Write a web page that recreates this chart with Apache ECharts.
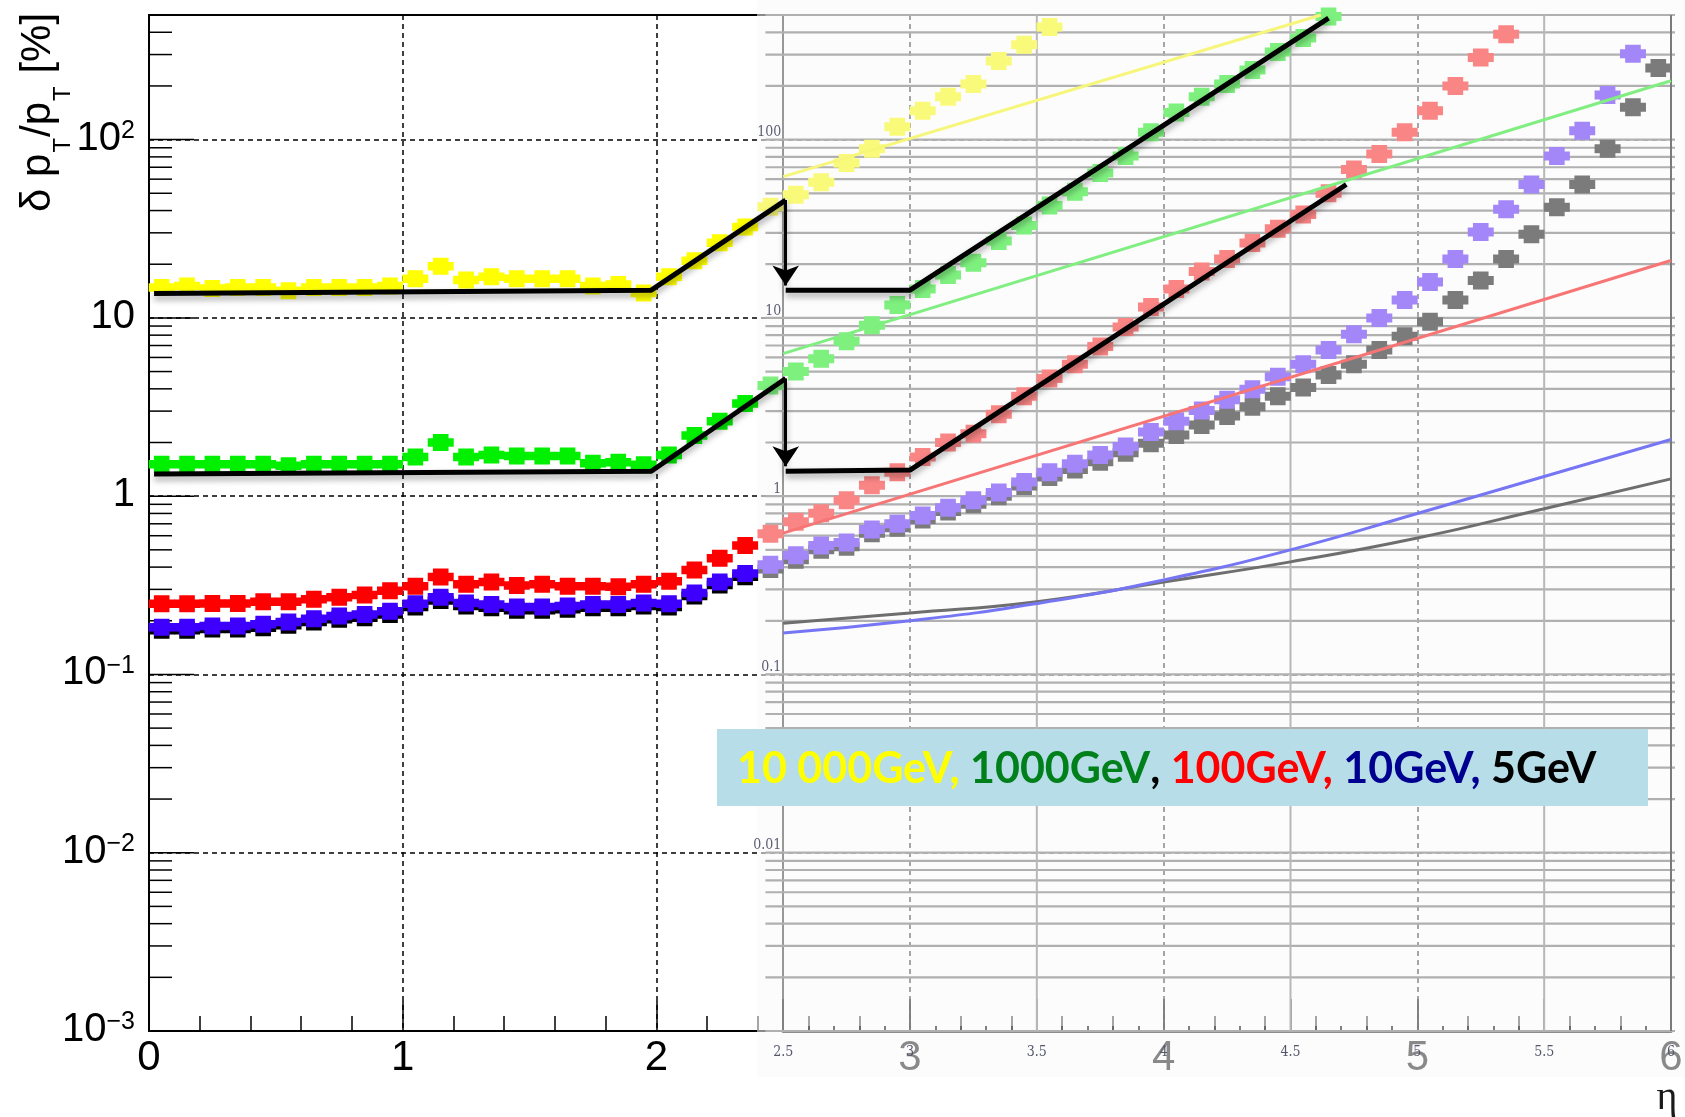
<!DOCTYPE html>
<html><head><meta charset="utf-8">
<script src="https://cdn.jsdelivr.net/npm/echarts@6/dist/echarts.min.js"></script>
<style>html,body{margin:0;padding:0;background:#fff}#c{width:1685px;height:1117px}</style>
</head><body><div id="c"></div>
<script>
// ---------- data ----------
const etaMain = [0.05,0.15,0.25,0.35,0.45,0.55,0.65,0.75,0.85,0.95,1.05,1.15,1.25,1.35,1.45,1.55,1.65,1.75,1.85,1.95,2.05,2.15,2.25,2.35];
const main10000 = [14.8,15.1,14.6,14.8,14.8,14.2,14.8,14.8,14.8,15.1,16.6,19.5,16.3,17.0,16.6,16.6,16.6,15.1,15.4,13.8,17.0,20.9,26.4,32.3];
const main1000  = [1.51,1.51,1.51,1.51,1.51,1.48,1.51,1.51,1.51,1.51,1.66,2.0,1.66,1.70,1.68,1.68,1.68,1.53,1.55,1.50,1.70,2.19,2.63,3.31];
const main100   = [0.249,0.249,0.25,0.25,0.256,0.256,0.264,0.271,0.279,0.295,0.312,0.352,0.321,0.330,0.315,0.321,0.312,0.312,0.31,0.321,0.333,0.385,0.448,0.529];
const main10    = [0.184,0.184,0.187,0.187,0.191,0.197,0.205,0.213,0.217,0.226,0.249,0.271,0.252,0.247,0.239,0.239,0.242,0.247,0.247,0.252,0.249,0.286,0.33,0.368];
const main5     = [0.177,0.177,0.18,0.18,0.183,0.189,0.197,0.204,0.208,0.217,0.239,0.26,0.242,0.237,0.229,0.229,0.232,0.237,0.237,0.242,0.239,0.275,0.317,0.353];

const etaFwd = [2.45,2.55,2.65,2.75,2.85,2.95,3.05,3.15,3.25,3.35,3.45,3.55,3.65,3.75,3.85,3.95,4.05,4.15,4.25,4.35,4.45,4.55,4.65,4.75,4.85,4.95,5.05,5.15,5.25,5.35,5.45,5.55,5.65,5.75,5.85,5.95];
const fwd10000 = [42,49,57.7,74,89,118,145,174,205,276,340,428];
const fwd1000  = [4.17,5.0,5.9,7.4,9.1,11.8,14.5,17.4,20.4,27,33,42.7,51,65,81,110,142,174,205,246,310,372,491];
const fwd100   = [0.615,0.719,0.803,0.95,1.15,1.36,1.66,2.0,2.24,2.88,3.63,4.57,5.5,6.9,8.9,11.5,14.5,18.2,21.4,26.3,31.6,38,50,68,83,110,145,200,289,390];
const fwd10    = [0.412,0.466,0.529,0.55,0.65,0.70,0.78,0.86,0.95,1.05,1.2,1.36,1.52,1.70,1.9,2.29,2.63,3.02,3.47,3.98,4.68,5.5,6.6,8.1,10,12.6,15.9,21.4,30.3,40.7,56,81,112,178,303];
const fwd5     = [0.39,0.44,0.50,0.52,0.62,0.665,0.74,0.82,0.90,1.0,1.14,1.28,1.41,1.56,1.75,1.98,2.2,2.51,2.82,3.17,3.63,4.07,4.79,5.5,6.6,7.9,9.5,12.6,16.2,21.4,29.5,41.8,56,89,152,252];

const lineEta10000 = [2.5, 4.62]; const lineVal10000 = [62, 500];
const lineEta1000  = [2.5, 6.0];  const lineVal1000  = [6.3, 214];
const lineEta100   = [2.5, 6.0];  const lineVal100   = [0.62, 21];
const curveEta = [2.5,3.0,3.5,4.0,4.5,5.0,5.5,6.0];
const curve10  = [0.171,0.20,0.25,0.339,0.50,0.80,1.29,2.08];
const curve5   = [0.194,0.221,0.256,0.33,0.428,0.582,0.85,1.25];

const annoUpperEta  = [0.02,1.98,2.51]; const annoUpperVal  = [13.7,14.3,45.8];
const annoUpper2Eta = [2.51,3.0,4.65];  const annoUpper2Val = [14.3,14.3,480];
const annoLowerEta  = [0.02,1.98,2.51]; const annoLowerVal  = [1.33,1.38,4.57];
const annoLower2Eta = [2.51,3.0,4.72];  const annoLower2Val = [1.38,1.40,56];
const arrowEta = [2.51,2.51];
const arrowUpperVal = [45.8,15.2];
const arrowLowerVal = [4.57,1.47];

// tick / label definitions
const decades = [0.001,0.01,0.1,1,10,100];
const mantissas = [2,3,4,5,6,7,8,9];
const yMainLabelExp  = [-3,-2,-1,0,1,2];
const yMainLabelText = ['{b|10}{s|\u22123}','{b|10}{s|\u22122}','{b|10}{s|\u22121}','{b|1}','{b|10}','{b|10}{s|2}'];
const yFwdLabelExp  = [-2,-1,0,1,2];
const yFwdLabelText = ['0.01','0.1','1','10','100'];
const fwdVLines = [3.5,4.5,5.5,6.0];
const yMin = 0.001, yMax = 500;

// ---------- helpers ----------
const zip = (xs, ys) => ys.map((y, i) => [xs[i], y]);
const minorVals = [];
decades.forEach(d => mantissas.forEach(m => { const v = +(d*m).toPrecision(3); if (v <= yMax) minorVals.push(v); }));
const fwdGridVals = decades.concat(minorVals);

function labelFromExp(exps, texts) {
  return function (v) {
    const l = Math.log10(v), e = Math.round(l);
    if (Math.abs(l - e) > 1e-6) return '';
    const i = exps.indexOf(e);
    return i < 0 ? '' : texts[i];
  };
}
function yTickRender(len) {
  return function (params, api) {
    const p = api.coord([0, api.value(1)]);
    return { type: 'line', shape: { x1: p[0], y1: p[1], x2: p[0] + len, y2: p[1] },
             style: { stroke: '#000', lineWidth: 1.5 } };
  };
}
const MARK = 'path://M2,0 H8 V2 H10 V6 H8 V8 H2 V6 H0 V2 H2 Z';
function scat(name, data, color, z, size) {
  return { name, type: 'scatter', data, symbol: MARK, symbolSize: size || [26, 17],
           itemStyle: { color, opacity: 1 }, z, silent: true };
}
function pline(data, color, width, z, smooth) {
  return { type: 'line', data, showSymbol: false, symbol: 'none', smooth: !!smooth,
           lineStyle: { color, width }, z, silent: true };
}
const shadow = { shadowColor: 'rgba(0,0,0,0.35)', shadowBlur: 6, shadowOffsetY: 4 };
function anno(data) {
  return { type: 'line', data, showSymbol: false, symbol: 'none',
           lineStyle: Object.assign({ color: '#000', width: 5 }, shadow), z: 8, silent: true };
}
function arrow(xs, ys) {
  return { type: 'lines', coordinateSystem: 'cartesian2d', xAxisIndex: 0, yAxisIndex: 0,
           symbol: ['none', 'arrow'], symbolSize: [14, 20], z: 8, silent: true,
           lineStyle: Object.assign({ color: '#000', width: 3, opacity: 1 }, shadow),
           data: [{ coords: zip(xs, ys) }] };
}

// ---------- chart ----------
const chart = echarts.init(document.getElementById('c'), null, { renderer: 'canvas' });
const GL = 149, GR = 14, GT = 15, GB = 86;
const gridW = 1685 - GL - GR;
const legendFont = { fontSize: 43, fontWeight: 'bold', fontFamily: 'Lato' };
chart.setOption({
  animation: false,
  backgroundColor: '#fff',
  grid: [
    { left: GL, right: GR, top: GT, bottom: GB, show: true, borderColor: '#000', borderWidth: 2,
      backgroundColor: 'transparent', containLabel: false, outerBoundsMode: 'none' },
    { left: GL + gridW * 2.5 / 6, right: GR, top: GT, bottom: GB, show: false, containLabel: false, outerBoundsMode: 'none' }
  ],
  xAxis: [
    { type: 'value', gridIndex: 0, min: 0, max: 6, interval: 1, z: 0,
      axisLine: { show: true, onZero: false, lineStyle: { color: '#000', width: 2 } },
      axisTick: { show: true, inside: true, length: 30, lineStyle: { color: '#000', width: 1.5 } },
      minorTick: { show: true, splitNumber: 5, length: 15, lineStyle: { color: '#000', width: 1.5 } },
      splitLine: { show: true, lineStyle: { color: '#000', type: [5, 4], width: 1.5 } },
      axisLabel: { margin: 6, fontSize: 42, fontFamily: 'Liberation Sans', color: '#000', formatter: v => String(v) } },
    { type: 'value', gridIndex: 1, min: 2.5, max: 6, interval: 0.5, z: 1.5,
      axisLine: { show: true, onZero: false, lineStyle: { color: '#8c8c8c', width: 3 } },
      axisTick: { show: true, inside: true, length: 32, lineStyle: { color: '#7a7a7a', width: 1.5 } },
      minorTick: { show: true, splitNumber: 5, length: 5, lineStyle: { color: '#555', width: 1.5 } },
      splitLine: { show: false },
      axisLabel: { margin: 14, fontSize: 14, fontFamily: 'DejaVu Serif Condensed, Liberation Serif', color: '#55586a',
                   formatter: v => String(v) } }
  ],
  yAxis: [
    { type: 'log', logBase: 10, gridIndex: 0, min: yMin, max: yMax, splitNumber: 6, z: 0,
      axisLine: { show: true, onZero: false, lineStyle: { color: '#000', width: 2 } },
      axisTick: { show: false },
      splitLine: { show: true, lineStyle: { color: '#000', type: [5, 4], width: 1.5 } },
      axisLabel: { margin: 14, formatter: labelFromExp(yMainLabelExp, yMainLabelText),
        rich: {
          b: { fontSize: 40, fontFamily: 'Liberation Sans', color: '#000', lineHeight: 42, verticalAlign: 'top' },
          s: { fontSize: 25, fontFamily: 'Liberation Sans', color: '#000', lineHeight: 25, verticalAlign: 'top' }
        } } },
    { type: 'log', logBase: 10, gridIndex: 1, min: yMin, max: yMax, splitNumber: 6, z: 1.5,
      axisLine: { show: true, onZero: false, lineStyle: { color: '#777', width: 1.5 } },
      axisTick: { show: false }, splitLine: { show: false },
      axisLabel: { margin: 2, fontSize: 14, fontFamily: 'DejaVu Serif Condensed, Liberation Serif', color: '#5a5d72',
                   verticalAlign: 'bottom', formatter: labelFromExp(yFwdLabelExp, yFwdLabelText) } }
  ],
  graphic: [
    { type: 'rect', z: 1, silent: true, shape: { x: 757, y: 0, width: 928, height: 1077 },
      style: { fill: 'rgba(250,250,250,0.55)' } },
    { type: 'text', z: 20, silent: true, x: 17, y: 212, rotation: Math.PI / 2,
      style: { text: '{m|\u03b4 p}{t|T}{m|/p}{t|T}{m| [%]}', textAlign: 'left', textVerticalAlign: 'top',
               align: 'left', verticalAlign: 'top',
               rich: { m: { fontSize: 42, fontFamily: 'Liberation Sans', fill: '#000', color: '#000', verticalAlign: 'top' },
                       t: { fontSize: 24, fontFamily: 'Liberation Sans', fill: '#000', color: '#000', verticalAlign: 'top',
                            padding: [34, 1, 0, 1] } } } },
    { type: 'text', z: 20, silent: true, x: 1667, y: 1098,
      style: { text: '\u03b7', fontSize: 40, fontFamily: 'Liberation Serif', fill: '#1a1a1a',
               textAlign: 'center', textVerticalAlign: 'middle', align: 'center', verticalAlign: 'middle' } },
    { type: 'rect', z: 50, silent: true, shape: { x: 717, y: 729, width: 931, height: 77 },
      style: { fill: '#b7dde8' } },
    { type: 'text', z: 51, silent: true, x: 737, y: 769,
      style: { text: '{y|10 000GeV, }{g|1000GeV}{k|, }{r|100GeV, }{b|10GeV, }{k|5GeV}',
               textAlign: 'left', textVerticalAlign: 'middle', align: 'left', verticalAlign: 'middle',
               rich: {
                 y: Object.assign({ fill: '#ffff00', color: '#ffff00' }, legendFont),
                 g: Object.assign({ fill: '#00801a', color: '#00801a' }, legendFont),
                 k: Object.assign({ fill: '#000', color: '#000' }, legendFont),
                 r: Object.assign({ fill: '#ff0000', color: '#ff0000' }, legendFont),
                 b: Object.assign({ fill: '#000090', color: '#000090' }, legendFont)
               } } }
  ],
  series: [
    // main-axis ticks on the left axis
    { type: 'custom', renderItem: yTickRender(45), data: decades.map(v => [0, v]), z: 2, silent: true, clip: false },
    { type: 'custom', renderItem: yTickRender(23), data: minorVals.map(v => [0, v]), z: 2, silent: true, clip: false },
    // overlaid forward plot grid
    { type: 'custom', silent: true, z: 2, data: fwdGridVals.map(v => [2.43, v]),
      renderItem: (p, api) => { const a = api.coord([api.value(0), api.value(1)]); const b = api.coord([6, api.value(1)]);
        return { type: 'line', shape: { x1: a[0], y1: a[1], x2: b[0] + 4, y2: b[1] }, style: { stroke: '#b0b0b0', lineWidth: 2.2 } }; } },
    { type: 'custom', silent: true, z: 2, data: fwdVLines.map(v => [v, yMin]),
      renderItem: (p, api) => { const a = api.coord([api.value(0), yMax]); const b = api.coord([api.value(0), yMin]);
        const last = api.value(0) >= 6;
        return { type: 'line', shape: { x1: a[0], y1: a[1], x2: b[0], y2: b[1] }, style: { stroke: last ? '#7a7a7a' : '#b8b8b8', lineWidth: 2 } }; } },
    // forward (faded) points
    scat('5GeV fwd', zip(etaFwd, fwd5), '#7b7b7b', 3, [26, 18]),
    scat('10GeV fwd', zip(etaFwd, fwd10), '#a386f7', 3, [26, 18]),
    scat('100GeV fwd', zip(etaFwd, fwd100), '#f98585', 3, [26, 18]),
    scat('1000GeV fwd', zip(etaFwd, fwd1000), '#7ef07e', 3, [26, 18]),
    scat('10000GeV fwd', zip(etaFwd, fwd10000), '#fafa7a', 3, [26, 18]),
    // forward lines
    pline(zip(curveEta, curve5), '#6e6e6e', 3, 4, true),
    pline(zip(curveEta, curve10), '#7676f5', 3, 4, true),
    pline(zip(lineEta100, lineVal100), '#f77575', 3, 4),
    pline(zip(lineEta1000, lineVal1000), '#80ee80', 3, 4),
    pline(zip(lineEta10000, lineVal10000), '#f6f67a', 3, 4),
    // central (saturated) points
    scat('5GeV', zip(etaMain, main5), '#000000', 5),
    scat('10GeV', zip(etaMain, main10), '#3d00ff', 5),
    scat('100GeV', zip(etaMain, main100), '#ff0000', 5),
    scat('1000GeV', zip(etaMain, main1000), '#00f000', 5),
    scat('10000GeV', zip(etaMain, main10000), '#ffff00', 5),
    // black annotations
    anno(zip(annoUpperEta, annoUpperVal)),
    anno(zip(annoUpper2Eta, annoUpper2Val)),
    anno(zip(annoLowerEta, annoLowerVal)),
    anno(zip(annoLower2Eta, annoLower2Val)),
    arrow(arrowEta, arrowUpperVal),
    arrow(arrowEta, arrowLowerVal)
  ]
});
</script>
</body></html>
